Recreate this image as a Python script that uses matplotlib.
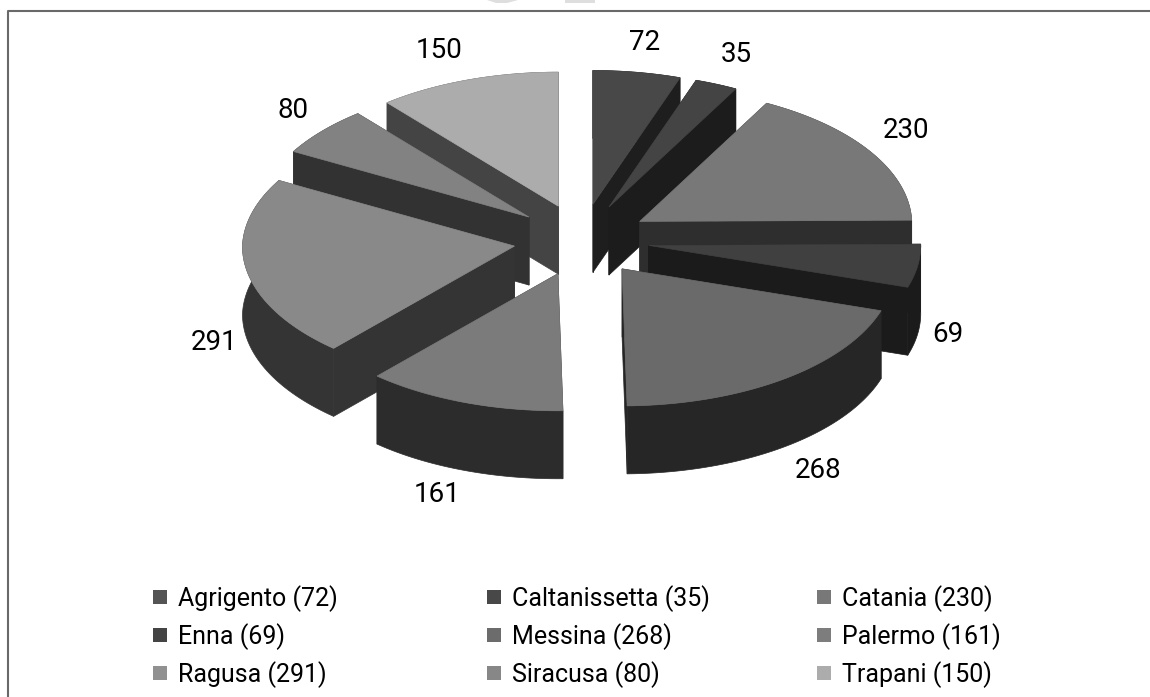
import numpy as np
import matplotlib
matplotlib.use("Agg")
import matplotlib.pyplot as plt
from matplotlib.patches import Polygon, Rectangle

plt.rcParams['font.family'] = ['Roboto', 'Liberation Sans', 'DejaVu Sans']

# province counts, clockwise from 12 o'clock
names = ['Agrigento', 'Caltanissetta', 'Catania', 'Enna', 'Messina',
         'Palermo', 'Ragusa', 'Siracusa', 'Trapani']
values = [72, 35, 230, 69, 268, 161, 291, 80, 150]

# grey levels
top_grey = [72, 68, 120, 64, 106, 123, 137, 130, 172]
wall_grey = [30, 28, 46, 27, 38, 44, 52, 50, 68]
legend_grey = [84, 72, 120, 68, 108, 125, 145, 135, 172]

# where each value label sits (pixels)
label_x = [645, 736, 906, 948, 818, 437, 214, 293, 439]
label_y = [43, 55, 131, 335, 470, 494, 343, 110, 51]

# pie geometry in pixels
cx, cy = 581.5, 240
rx, ry = 272, 137
explode_x, explode_y = 68, 36
depth = 68
back_shrink = 0.022  # far side of the pie is a little smaller

# back slices first so the front ones cover them
draw_order = [8, 7, 6, 5, 0, 1, 2, 3, 4]


def grey(v):
    return (v / 255, v / 255, v / 255)


fig = plt.figure(figsize=(11.5, 6.97), dpi=100)
ax = fig.add_axes([0, 0, 1, 1])
ax.set_xlim(0, 1150)
ax.set_ylim(697, 0)
ax.axis('off')

# frame: only left and top show in the crop
ax.plot([7.5, 7.5, 1150], [697, 10.5, 10.5], color=grey(105), lw=1.5)

# scrap of the scan's watermark above the frame
ax.add_patch(Polygon([(487, 0), (518, 0), (507, 3), (496, 3)], fc=grey(222), ec='none'))
ax.add_patch(Rectangle((565, 0), 30, 3, fc=grey(222), ec='none'))

edges = np.cumsum([0] + values) / sum(values) * 2 * np.pi


def rim_point(x0, y0, a):
    k = 1 - back_shrink * np.clip(np.cos(a), 0, None)
    return x0 + k * rx * np.sin(a), y0 - k * ry * np.cos(a)


for i in draw_order:
    a0, a1 = edges[i], edges[i + 1]
    mid = (a0 + a1) / 2
    ax0 = cx + explode_x * np.sin(mid)
    ay0 = cy - explode_y * np.cos(mid)

    t = np.linspace(a0, a1, 60)
    arc_x, arc_y = rim_point(ax0, ay0, t)

    # the two cut faces
    for a in (a0, a1):
        ex, ey = rim_point(ax0, ay0, a)
        face = [(ax0, ay0), (ex, ey), (ex, ey + depth), (ax0, ay0 + depth)]
        ax.add_patch(Polygon(face, fc=grey(wall_grey[i]), ec=grey(wall_grey[i]), lw=0.5))

    # outer rim
    rim = np.column_stack([np.r_[arc_x, arc_x[::-1]], np.r_[arc_y, arc_y[::-1] + depth]])
    ax.add_patch(Polygon(rim, fc=grey(wall_grey[i]), ec=grey(wall_grey[i]), lw=0.5))

    # top
    top = np.column_stack([np.r_[ax0, arc_x], np.r_[ay0, arc_y]])
    ax.add_patch(Polygon(top, fc=grey(top_grey[i]), ec=grey(top_grey[i]), lw=0.5))

for v, x, y in zip(values, label_x, label_y):
    ax.text(x, y, str(v), fontsize=20, ha='center', va='center', color='black')

# legend, three columns
col_x = [153, 487, 817]
row_y = [598, 636, 674]
for i, (n, v) in enumerate(zip(names, values)):
    x = col_x[i % 3]
    y = row_y[i // 3]
    ax.add_patch(Rectangle((x, y - 8), 14, 14, fc=grey(legend_grey[i]), ec='none'))
    ax.text(x + 25, y + 1, f'{n} ({v})', fontsize=18, ha='left', va='center', color='black')

fig.savefig('out.png', dpi=100)
